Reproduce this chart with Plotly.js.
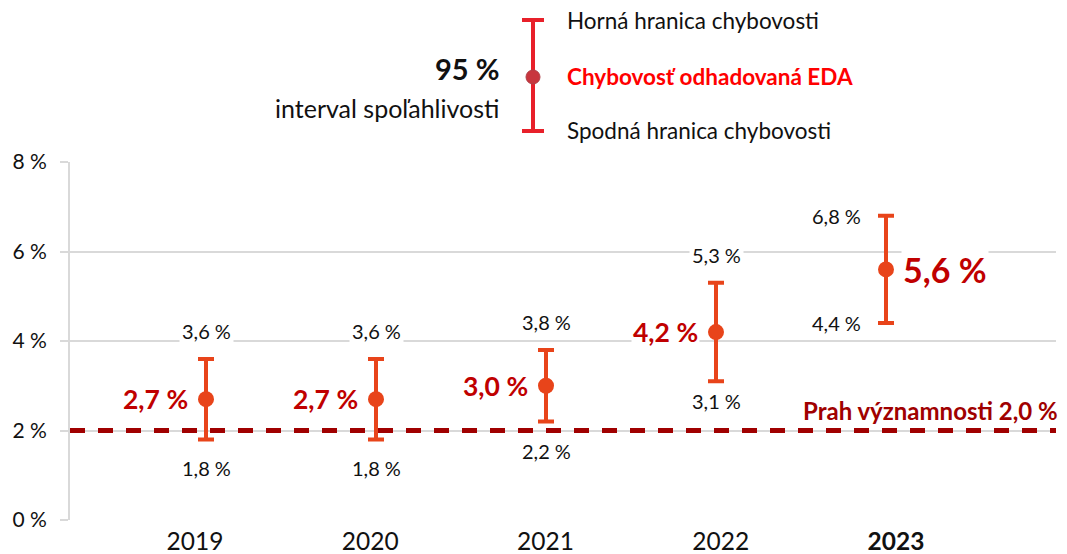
<!DOCTYPE html>
<html>
<head>
<meta charset="utf-8">
<script src="https://cdn.plot.ly/plotly-3.0.1.min.js"></script>
<style>html,body{margin:0;padding:0;background:#fff;}#chart{width:1067px;height:554px;}</style>
</head>
<body>
<div id="chart"></div>
<script>
// ---- data ----
const years = ['2019', '2020', '2021', '2022', '2023'];
const yearLabels = ['2019', '2020', '2021', '2022', '<b>2023</b>'];
const estimate = [2.7, 2.7, 3.0, 4.2, 5.6];
const upper = [3.6, 3.6, 3.8, 5.3, 6.8];
const lower = [1.8, 1.8, 2.2, 3.1, 4.4];
const threshold = 2.0;
const yTickVals = [0, 2, 4, 6, 8];
const yTickText = ['0 %', '2 %', '4 %', '6 %', '8 %'];
const thresholdLabel = 'Prah významnosti 2,0 %';
const legendTexts = ['Horná hranica chybovosti', 'Chybovosť odhadovaná EDA', 'Spodná hranica chybovosti'];
const ciTexts = ['95 %', 'interval spoľahlivosti'];

const fmt = v => v.toFixed(1).replace('.', ',') + ' %';
const FONT = 'Lato, "Open Sans", sans-serif';
const ORANGE = '#e8441a';
const DARKRED = '#a00000';
const LABELRED = '#c00000';

// pixel helpers for paper positions (plot area 70..1056 x, 162..520 y)
const PL = 70, PR = 1056, PT = 162, PB = 520;
const px = x => (x - PL) / (PR - PL);
const py = y => (PB - y) / (PB - PT);

const trace = {
  type: 'scatter',
  mode: 'markers',
  x: years,
  y: estimate,
  marker: {color: ORANGE, size: 16},
  error_y: {
    type: 'data', symmetric: false,
    array: upper.map((u, i) => u - estimate[i]),
    arrayminus: lower.map((l, i) => estimate[i] - l),
    color: ORANGE, thickness: 4, width: 8
  },
  hoverinfo: 'skip',
  cliponaxis: false
};

// invisible trace carrying the category tick labels (labels sit slightly offset from the bars)
const tickTrace = {
  type: 'scatter', mode: 'markers', x: years, y: estimate,
  xaxis: 'x2', yaxis: 'y', marker: {opacity: 0, size: 1}, hoverinfo: 'skip'
};

const annotations = [];
years.forEach((yr, i) => {
  const last = i === years.length - 1;
  annotations.push({
    x: i, y: upper[i], xref: 'x', yref: 'y', showarrow: false,
    text: fmt(upper[i]), font: {family: FONT, size: 20, color: '#111'},
    bgcolor: '#fff', borderpad: 2,
    xanchor: last ? 'right' : 'center', xshift: last ? -22 : 0, yshift: last ? 0 : 28
  });
  annotations.push({
    x: i, y: lower[i], xref: 'x', yref: 'y', showarrow: false,
    text: fmt(lower[i]), font: {family: FONT, size: 20, color: '#111'},
    bgcolor: '#fff', borderpad: 2,
    xanchor: last ? 'right' : 'center', xshift: last ? -22 : 0,
    yshift: last ? 0 : (i === 3 ? -20 : -29)
  });
  annotations.push({
    x: i, y: estimate[i], xref: 'x', yref: 'y', showarrow: false,
    text: '<b>' + fmt(estimate[i]) + '</b>',
    font: {family: FONT, size: last ? 34 : 26.5, color: LABELRED},
    bgcolor: '#fff', borderpad: 1,
    xanchor: last ? 'left' : 'right', xshift: last ? 15 : -16
  });
});

annotations.push({
  x: 1.004, y: threshold, xref: 'paper', yref: 'y', showarrow: false,
  text: '<b>' + thresholdLabel + '</b>', font: {family: FONT, size: 24, color: DARKRED},
  xanchor: 'right', yanchor: 'bottom', yshift: 4
});

// legend texts (top)
annotations.push({x: px(565), y: py(20), xref: 'paper', yref: 'paper', showarrow: false,
  text: legendTexts[0], font: {family: FONT, size: 22.5, color: '#111'}, xanchor: 'left', yanchor: 'middle'});
annotations.push({x: px(565), y: py(77), xref: 'paper', yref: 'paper', showarrow: false,
  text: '<b>' + legendTexts[1] + '</b>', font: {family: FONT, size: 22.5, color: '#ff0000'}, xanchor: 'left', yanchor: 'middle'});
annotations.push({x: px(565), y: py(131), xref: 'paper', yref: 'paper', showarrow: false,
  text: legendTexts[2], font: {family: FONT, size: 22.5, color: '#111'}, xanchor: 'left', yanchor: 'middle'});
annotations.push({x: px(501), y: py(68), xref: 'paper', yref: 'paper', showarrow: false,
  text: '<b>' + ciTexts[0] + '</b>', font: {family: FONT, size: 29, color: '#111'}, xanchor: 'right', yanchor: 'middle'});
annotations.push({x: px(501), y: py(108), xref: 'paper', yref: 'paper', showarrow: false,
  text: ciTexts[1], font: {family: FONT, size: 25, color: '#111'}, xanchor: 'right', yanchor: 'middle'});

const LEG = '#e8202a';
const shapes = [
  {type: 'line', xref: 'paper', yref: 'y', x0: 0, x1: 1, y0: threshold, y1: threshold,
   line: {color: DARKRED, width: 5, dash: '15px,13px'}, layer: 'above'},
  {type: 'line', xref: 'paper', yref: 'paper', x0: px(533), x1: px(533), y0: py(20), y1: py(131), line: {color: LEG, width: 4}},
  {type: 'line', xref: 'paper', yref: 'paper', x0: px(522), x1: px(544), y0: py(20), y1: py(20), line: {color: LEG, width: 4}},
  {type: 'line', xref: 'paper', yref: 'paper', x0: px(522), x1: px(544), y0: py(131), y1: py(131), line: {color: LEG, width: 4}},
  {type: 'circle', xref: 'paper', yref: 'paper', x0: px(526), x1: px(540), y0: py(70), y1: py(84),
   fillcolor: '#c8363e', line: {color: '#b04048', width: 1}}
];

const layout = {
  width: 1067, height: 554,
  margin: {l: PL, r: 1067 - PR, t: PT, b: 554 - PB},
  paper_bgcolor: '#fff', plot_bgcolor: '#fff',
  showlegend: false,
  font: {family: FONT, color: '#111'},
  xaxis: {
    type: 'category', range: [-0.8, 5.0], showticklabels: false,
    showgrid: false, zeroline: false, showline: false, ticks: '', fixedrange: true
  },
  xaxis2: {
    type: 'category', overlaying: 'x', anchor: 'y', side: 'bottom',
    range: [-0.713, 4.913], tickvals: years, ticktext: yearLabels,
    showgrid: false, zeroline: false, showline: false, ticks: '',
    ticklabelstandoff: 4,
    tickfont: {family: FONT, size: 24.5, color: '#111'}, fixedrange: true
  },
  yaxis: {
    range: [0, 8], tickvals: yTickVals, ticktext: yTickText,
    showgrid: true, gridcolor: '#d9d9d9', gridwidth: 2,
    zeroline: false, showline: true, linecolor: '#d9d9d9', linewidth: 2,
    ticks: 'outside', ticklen: 8, tickcolor: '#d9d9d9', tickwidth: 2,
    ticklabelstandoff: 9,
    tickfont: {family: FONT, size: 21, color: '#111'}, fixedrange: true
  },
  annotations: annotations,
  shapes: shapes
};

Plotly.newPlot('chart', [trace, tickTrace], layout, {displayModeBar: false, staticPlot: true});
</script>
</body>
</html>
